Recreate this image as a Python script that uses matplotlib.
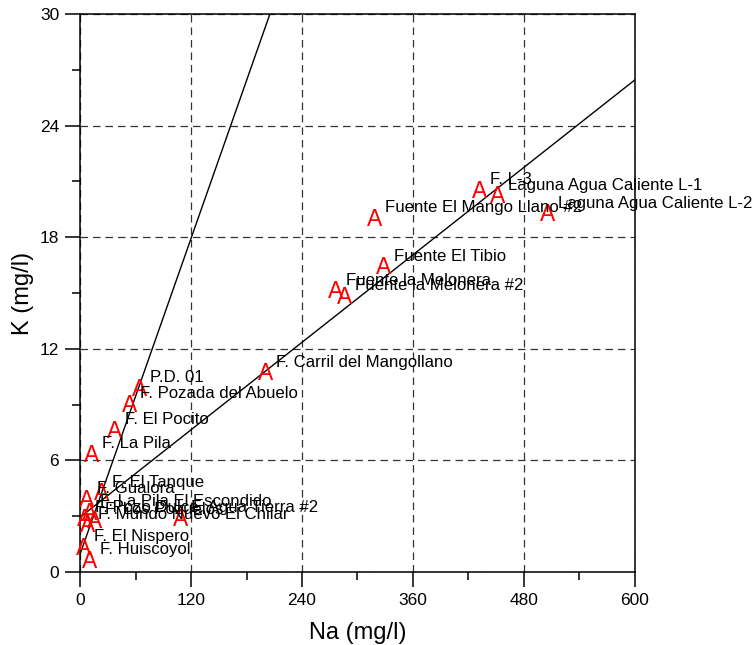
import numpy as np
import matplotlib
matplotlib.use("Agg")
import matplotlib.pyplot as plt
from matplotlib.ticker import MultipleLocator

plt.rcParams['font.family'] = ['Liberation Sans', 'DejaVu Sans']

# sample points: Na and K in mg/l
names = [
    "F. L-3", "Laguna Agua Caliente L-1", "Laguna Agua Caliente L-2",
    "Fuente El Mango Llano #2", "Fuente El Tibio", "Fuente la Melonera",
    "Fuente la Melonera #2", "F. Carril del Mangollano", "P.D. 01",
    "F. Pozada del Abuelo", "F. El Pocito", "F. La Pila", "F. El Tanque",
    "F. Gualora", "F. La Pila El Escondido", "F. Pozo Dulce",
    "F. Los Pozuelos", "F. Mundo Nuevo El Chilar", "F. Agua Tierra #2",
    "F. El Nispero", "F. Huiscoyol",
]
na = [432, 452, 505, 318, 328, 276, 286, 201, 64, 54, 37, 13, 23,
      7.6, 10.8, 5.4, 16.2, 8.6, 109, 4.3, 10.8]
k = [20.6, 20.3, 19.35, 19.1, 16.5, 15.2, 14.9, 10.8, 9.95, 9.1, 7.7,
     6.4, 4.35, 3.98, 3.28, 2.96, 2.85, 2.63, 2.96, 1.4, 0.7]

# two trend lines (intercept, slope)
line_intercepts = [0.95, 2.94]
line_slopes = [0.1415, 0.0392]
line_na = np.array([0, 600])

fig = plt.figure(figsize=(7.55, 6.45), dpi=100)
ax = fig.add_axes([0.106, 0.1132, 0.735, 0.8651])

for b, m in zip(line_intercepts, line_slopes):
    ax.plot(line_na, b + m * line_na, color='black', lw=1.0, zorder=2)

for x, y, name in zip(na, k, names):
    ax.text(x, y, "A", color='red', fontsize=16.5, ha='center',
            va='center_baseline', zorder=3)
    ax.annotate(name, (x, y), xytext=(7.5, 6.5), textcoords='offset points',
                fontsize=12.1, ha='left', va='center', zorder=4,
                annotation_clip=False)

ax.set_xlim(0, 600)
ax.set_ylim(0, 30)
ax.xaxis.set_major_locator(MultipleLocator(120))
ax.xaxis.set_minor_locator(MultipleLocator(60))
ax.yaxis.set_major_locator(MultipleLocator(6))
ax.yaxis.set_minor_locator(MultipleLocator(3))
ax.tick_params(which='major', direction='out', length=11, width=1.1,
               labelsize=12.5, pad=4)
ax.tick_params(which='minor', direction='out', length=6, width=1.1)

ax.grid(True, which='major', color='#333333', lw=0.9, linestyle=(0, (6, 4)))
ax.set_axisbelow(True)
for s in ax.spines.values():
    s.set_linewidth(1.1)

ax.set_xlabel("Na (mg/l)", fontsize=17, labelpad=10)
ax.set_ylabel("K (mg/l)", fontsize=17, labelpad=4)

plt.savefig("out.png", dpi=100)
